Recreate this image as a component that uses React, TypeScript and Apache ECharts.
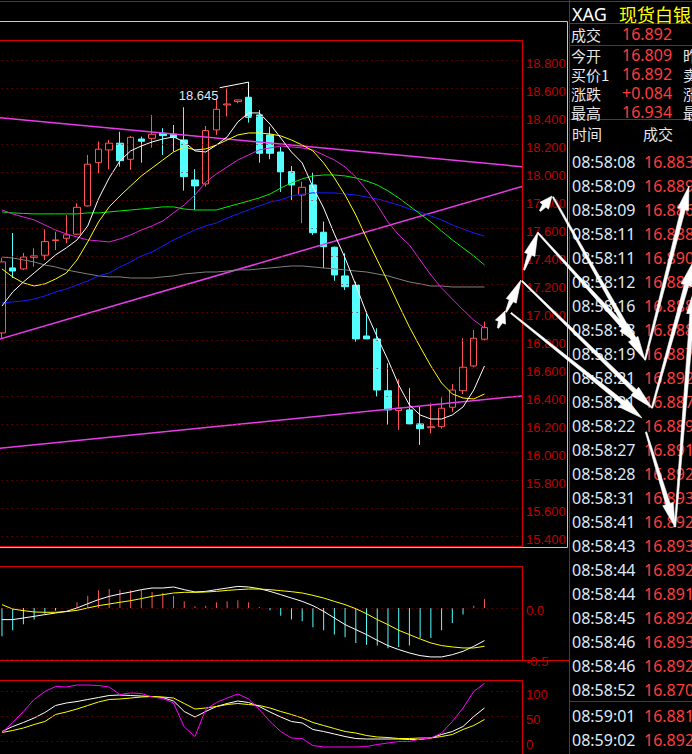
import React, { useEffect, useRef } from 'react';
import * as echarts from 'echarts';

// ---------- DATA ----------
// candles: [open, close, low, high]
const candles: number[][] = [
  [16.854, 17.361, 16.818, 17.39],
  [17.318, 17.296, 17.246, 17.568],
  [17.311, 17.396, 17.304, 17.425],
  [17.394, 17.404, 17.327, 17.459],
  [17.409, 17.506, 17.375, 17.594],
  [17.513, 17.518, 17.446, 17.577],
  [17.53, 17.554, 17.494, 17.696],
  [17.559, 17.751, 17.554, 17.78],
  [17.761, 18.059, 17.756, 18.125],
  [18.07, 18.166, 17.994, 18.22],
  [18.161, 18.209, 18.023, 18.232],
  [18.209, 18.084, 18.041, 18.291],
  [18.094, 18.251, 18.018, 18.261],
  [18.239, 18.223, 18.07, 18.256],
  [18.244, 18.273, 18.177, 18.411],
  [18.28, 18.263, 18.125, 18.316],
  [18.273, 18.249, 18.149, 18.339],
  [18.232, 17.97, 17.87, 18.466],
  [17.946, 17.904, 17.732, 18.023],
  [17.918, 18.299, 17.899, 18.332],
  [18.304, 18.451, 18.268, 18.53],
  [18.482, 18.489, 18.399, 18.601],
  [18.506, 18.518, 18.494, 18.52],
  [18.537, 18.394, 18.356, 18.645],
  [18.411, 18.137, 18.07, 18.446],
  [18.268, 18.137, 18.094, 18.327],
  [18.146, 18.004, 17.861, 18.182],
  [18.006, 17.911, 17.804, 18.046],
  [17.839, 17.894, 17.637, 17.934],
  [17.911, 17.57, 17.554, 17.999],
  [17.573, 17.47, 17.316, 17.649],
  [17.466, 17.268, 17.227, 17.47],
  [17.261, 17.184, 17.161, 17.423],
  [17.196, 16.811, 16.791, 17.22],
  [16.832, 16.811, 16.81, 17.006],
  [16.811, 16.446, 16.399, 16.887],
  [16.441, 16.304, 16.196, 16.637],
  [16.299, 16.316, 16.161, 16.523],
  [16.304, 16.204, 16.204, 16.459],
  [16.204, 16.17, 16.054, 16.327],
  [16.177, 16.184, 16.137, 16.351],
  [16.184, 16.316, 16.17, 16.394],
  [16.323, 16.446, 16.291, 16.489],
  [16.441, 16.609, 16.418, 16.816],
  [16.618, 16.816, 16.609, 16.875],
  [16.809, 16.892, 16.8, 16.934],
];

const maWhite = [17.046, 17.146, 17.218, 17.282, 17.346, 17.411, 17.461, 17.518, 17.618, 17.811, 17.961, 18.082, 18.154, 18.189, 18.218, 18.239, 18.254, 18.218, 18.154, 18.146, 18.196, 18.254, 18.361, 18.425, 18.425, 18.346, 18.246, 18.146, 18.068, 17.896, 17.746, 17.561, 17.389, 17.196, 16.996, 16.825, 16.661, 16.482, 16.339, 16.268, 16.239, 16.239, 16.268, 16.325, 16.446, 16.618];
const maYellow = [17.311, 17.254, 17.211, 17.189, 17.204, 17.239, 17.282, 17.375, 17.504, 17.646, 17.754, 17.832, 17.904, 17.975, 18.032, 18.089, 18.146, 18.182, 18.161, 18.168, 18.196, 18.232, 18.268, 18.282, 18.282, 18.275, 18.261, 18.232, 18.196, 18.154, 18.068, 17.961, 17.839, 17.696, 17.532, 17.375, 17.218, 17.054, 16.896, 16.754, 16.618, 16.496, 16.418, 16.389, 16.382, 16.418];
const maMagenta = [17.732, 17.704, 17.682, 17.661, 17.625, 17.589, 17.561, 17.539, 17.518, 17.511, 17.504, 17.525, 17.554, 17.589, 17.618, 17.654, 17.711, 17.768, 17.839, 17.932, 17.989, 18.039, 18.089, 18.125, 18.161, 18.175, 18.189, 18.182, 18.175, 18.161, 18.125, 18.089, 18.039, 17.968, 17.875, 17.768, 17.646, 17.554, 17.482, 17.375, 17.268, 17.175, 17.096, 17.018, 16.946, 16.889];
const maGreen = [17.718, 17.711, 17.707, 17.704, 17.704, 17.704, 17.704, 17.704, 17.711, 17.711, 17.718, 17.725, 17.732, 17.739, 17.746, 17.754, 17.754, 17.739, 17.732, 17.732, 17.732, 17.754, 17.775, 17.796, 17.818, 17.846, 17.889, 17.925, 17.954, 17.975, 17.982, 17.982, 17.975, 17.961, 17.939, 17.911, 17.868, 17.818, 17.761, 17.704, 17.646, 17.582, 17.518, 17.461, 17.404, 17.339];
const maBlue = [17.068, 17.075, 17.082, 17.096, 17.118, 17.146, 17.168, 17.196, 17.225, 17.261, 17.282, 17.325, 17.361, 17.404, 17.432, 17.475, 17.518, 17.554, 17.589, 17.618, 17.639, 17.675, 17.704, 17.732, 17.761, 17.789, 17.804, 17.832, 17.846, 17.854, 17.854, 17.854, 17.846, 17.839, 17.825, 17.811, 17.789, 17.768, 17.739, 17.718, 17.689, 17.661, 17.625, 17.596, 17.568, 17.546];
const maGray = [17.396, 17.389, 17.375, 17.361, 17.339, 17.325, 17.304, 17.289, 17.275, 17.261, 17.254, 17.254, 17.246, 17.246, 17.246, 17.254, 17.261, 17.275, 17.282, 17.289, 17.289, 17.296, 17.304, 17.304, 17.311, 17.318, 17.325, 17.332, 17.332, 17.325, 17.318, 17.311, 17.304, 17.296, 17.289, 17.275, 17.261, 17.239, 17.218, 17.204, 17.189, 17.189, 17.182, 17.182, 17.182, 17.182];

// hand-drawn trend lines: [slotPosition, price]
const trendUpper = [[-0.5, 18.393], [48.5, 18.041]];
const trendMiddle = [[-0.5, 16.804], [48.5, 17.9]];
const trendLower = [[-0.5, 16.028], [48.5, 16.404]];
const maxMarkerPath = [[20.3, 18.605], [23, 18.645], [23, 18.537]];

const macdHist = [-0.278, -0.219, -0.16, -0.114, -0.056, -0.026, 0, 0.056, 0.121, 0.173, 0.186, 0.18, 0.173, 0.18, 0.157, 0.147, 0.121, 0.065, 0.016, 0.023, 0.056, 0.065, 0.075, 0.056, 0.01, -0.023, -0.075, -0.114, -0.131, -0.19, -0.219, -0.261, -0.288, -0.343, -0.36, -0.369, -0.395, -0.382, -0.369, -0.294, -0.294, -0.219, -0.147, -0.065, 0.023, 0.088];
const macdDif = [-0.114, -0.114, -0.098, -0.082, -0.065, -0.049, -0.033, 0, 0.042, 0.082, 0.114, 0.137, 0.157, 0.18, 0.196, 0.196, 0.206, 0.18, 0.157, 0.163, 0.18, 0.196, 0.212, 0.206, 0.19, 0.163, 0.131, 0.098, 0.065, 0.023, -0.033, -0.098, -0.163, -0.212, -0.261, -0.317, -0.369, -0.408, -0.441, -0.467, -0.48, -0.48, -0.458, -0.425, -0.376, -0.32];
const macdDea = [0.033, -0.01, -0.026, -0.039, -0.042, -0.042, -0.036, -0.023, 0, 0.023, 0.039, 0.056, 0.072, 0.092, 0.114, 0.131, 0.147, 0.154, 0.154, 0.157, 0.163, 0.173, 0.18, 0.186, 0.186, 0.18, 0.17, 0.16, 0.147, 0.124, 0.098, 0.065, 0.033, -0.007, -0.056, -0.114, -0.163, -0.219, -0.261, -0.304, -0.343, -0.369, -0.382, -0.392, -0.392, -0.376];

const kdjK = [19, 29, 37, 46, 57, 71, 76, 79, 83, 87, 91, 92, 91, 90, 89, 87, 80, 59, 48, 59, 69, 75, 80, 77, 69, 58, 48, 39, 36, 23, 19, 14, 9, 5, 4, 4, 4, 4, 3, 3, 6, 13, 19, 29, 49, 66];
const kdjD = [17, 21, 26, 33, 39, 53, 58, 64, 71, 78, 83, 84, 86, 88, 89, 88, 86, 75, 64, 66, 69, 73, 75, 73, 71, 66, 59, 53, 46, 37, 31, 25, 19, 16, 11, 8, 7, 5, 5, 6, 6, 9, 13, 23, 31, 43];
const kdjJ = [17, 37, 59, 83, 99, 109, 108, 112, 112, 111, 108, 93, 96, 95, 88, 85, 76, 28, 9, 63, 77, 86, 94, 84, 63, 39, 19, 6, 5, -9, -12, -12, -12, -12, -11, -7, -4, -1, -1, 4, 6, 16, 39, 66, 99, 115];

// axis ticks (labels + dotted grid lines)
const priceTicks = [18.8, 18.6, 18.4, 18.2, 18.0, 17.8, 17.6, 17.4, 17.2, 17.0, 16.8, 16.6, 16.4, 16.2, 16.0, 15.8, 15.6, 15.4];
const macdTicks = [0, -0.5];
const kdjTicks = [100, 50, 0];
// visible value range of each panel box
const priceRange = [15.332, 18.946];
const macdRange = [-0.52, 0.412];
const kdjRange = [-26, 122];

const SLOTS = 49; // 46 candles + 3 empty slots on the right
const categories = Array.from({ length: SLOTS }, (_, i) => `K${i + 1}`);

const symbolCode = 'XAG';
const symbolName = '现货白银';
const quoteLabels = ['成交', '今开', '买价1', '涨跌', '最高'];
const quoteValues = ['16.892', '16.809', '16.892', '+0.084', '16.934'];
const quoteSide = ['', '昨收', '卖价1', '涨幅', '最低'];
const tickHeaders = ['时间', '成交'];
const tickTimes = ['08:58:08', '08:58:09', '08:58:09', '08:58:11', '08:58:11', '08:58:12', '08:58:16', '08:58:18', '08:58:19', '08:58:21', '08:58:21', '08:58:22', '08:58:27', '08:58:28', '08:58:31', '08:58:41', '08:58:43', '08:58:44', '08:58:44', '08:58:45', '08:58:46', '08:58:46', '08:58:52', '08:59:01', '08:59:02'];
const tickPrices = ['16.883', '16.889', '16.886', '16.888', '16.890', '16.889', '16.888', '16.888', '16.887', '16.892', '16.887', '16.889', '16.891', '16.892', '16.893', '16.892', '16.893', '16.892', '16.891', '16.892', '16.893', '16.892', '16.870', '16.881', '16.892'];

// hand-drawn white arrows (annotation, screen pixels): [x1, y1, x2, y2], head at the end
const arrows = [
  [498, 328, 505, 311],
  [506, 312, 521, 280],
  [524, 270, 538, 232],
  [540, 211, 552, 196],
  [553, 197, 645, 360],
  [538, 233, 640, 345],
  [522, 281, 652, 408],
  [511, 313, 642, 418],
  [646, 432, 675, 527],
  [645, 360, 689, 186],
  [652, 408, 693, 262],
  [675, 527, 694, 290],
];

// ---------- STYLE ----------
const RED_LINE = '#d80000';
const GRID_RED = '#a00000';
const LABEL_RED = '#c00000';
const BULL = '#ff5454';
const BEAR = '#54ffff';
const AXIS_FONT = "'Liberation Sans', Arial, sans-serif";
const PANEL_FONT = "'Noto Sans', 'Noto Sans CJK SC', sans-serif";
const CJK_FONT = "'Noto Sans CJK SC', 'Noto Sans', sans-serif";

function arrowPolygon(x1: number, y1: number, x2: number, y2: number) {
  const dx = x2 - x1, dy = y2 - y1;
  const L = Math.hypot(dx, dy);
  const ux = dx / L, uy = dy / L;
  const px = -uy, py = ux;
  const headLen = Math.min(24, L * 0.65);
  const headW = 5.5, w0 = 0.7, w1 = 2.2;
  const bx = x2 - ux * headLen, by = y2 - uy * headLen;
  return [
    [x1 + px * w0, y1 + py * w0],
    [bx + px * w1, by + py * w1],
    [bx + px * headW, by + py * headW],
    [x2, y2],
    [bx - px * headW, by - py * headW],
    [bx - px * w1, by - py * w1],
    [x1 - px * w0, y1 - py * w0],
  ];
}

function txt(text: string, x: number, y: number, fill: string, size: number, family: string, z = 60) {
  return {
    type: 'text', z, silent: true,
    style: {
      text, x, y, fill,
      font: `${size}px ${family}`,
      textAlign: 'left', textVerticalAlign: 'middle',
      align: 'left', verticalAlign: 'middle',
    },
  };
}
function hline(x1: number, x2: number, y: number, stroke: string) {
  return { type: 'line', z: 50, silent: true, shape: { x1, y1: y, x2, y2: y }, style: { stroke, lineWidth: 1 } };
}
function vline(x: number, y1: number, y2: number, stroke: string) {
  return { type: 'line', z: 50, silent: true, shape: { x1: x, y1, x2: x, y2 }, style: { stroke, lineWidth: 1 } };
}
function box(x: number, y: number, w: number, h: number, stroke: string) {
  return { type: 'rect', z: 50, silent: true, shape: { x, y, width: w, height: h }, style: { fill: 'none', stroke, lineWidth: 1 } };
}

export default function App() {
  const ref = useRef<HTMLDivElement>(null);
  useEffect(() => {
    if (!ref.current) return;
    const chart = echarts.init(ref.current, null, { renderer: 'svg' });

    const highs = candles.map((c) => c[3]);
    const maxHigh = Math.max(...highs);
    const maxIdx = highs.indexOf(maxHigh);

    const GL = -3.4, GR = 170;
    const gridMark = (ticks: number[]) => ({
      silent: true, symbol: ['none', 'none'], label: { show: false },
      lineStyle: { color: GRID_RED, type: [1, 4], width: 1 },
      data: ticks.map((v) => ({ yAxis: v })),
    });
    const hiddenY = (gridIndex: number, range: number[]) => ({
      type: 'value', gridIndex, position: 'right', min: range[0], max: range[1], scale: true,
      axisLine: { show: false }, axisTick: { show: false }, axisLabel: { show: false }, splitLine: { show: false },
    });
    const lineSeries = (data: any, color: string, xAxisIndex: number, yAxisIndex: number, width = 1, extra: any = {}) => ({
      type: 'line', data, xAxisIndex, yAxisIndex, symbol: 'none', silent: true,
      lineStyle: { color, width }, z: 3, ...extra,
    });

    const option: any = {
      animation: false,
      backgroundColor: '#000000',
      grid: [
        { left: GL, right: GR, top: 40, height: 506, outerBoundsMode: 'none' },
        { left: GL, right: GR, top: 566, height: 95, outerBoundsMode: 'none' },
        { left: GL, right: GR, top: 680, height: 74, outerBoundsMode: 'none' },
      ],
      xAxis: [
        { type: 'category', gridIndex: 0, data: categories, show: false },
        { type: 'value', gridIndex: 0, min: -0.5, max: SLOTS - 0.5, show: false },
        { type: 'category', gridIndex: 1, data: categories, show: false },
        { type: 'category', gridIndex: 2, data: categories, show: false },
      ],
      yAxis: [hiddenY(0, priceRange), hiddenY(1, macdRange), hiddenY(2, kdjRange)],
      series: [
        {
          type: 'candlestick', xAxisIndex: 0, yAxisIndex: 0, data: candles, barWidth: 7, z: 2,
          itemStyle: { color: 'rgba(0,0,0,0)', color0: BEAR, borderColor: BULL, borderColor0: BEAR, borderWidth: 1 },
          markLine: gridMark(priceTicks),
          markPoint: {
            symbol: 'circle', symbolSize: 0, silent: true,
            data: [{ coord: [categories[maxIdx], maxHigh], value: maxHigh }],
            label: {
              show: true, position: 'inside', offset: [-50, 13], color: '#dbe6f2', fontSize: 13,
              fontFamily: AXIS_FONT, formatter: (p: any) => Number(p.value).toFixed(3),
            },
          },
        },
        lineSeries(trendUpper, '#e83ce8', 1, 0, 1.5),
        lineSeries(trendMiddle, '#e83ce8', 1, 0, 1.5),
        lineSeries(trendLower, '#e83ce8', 1, 0, 1.5),
        lineSeries(maGray, '#808080', 0, 0),
        lineSeries(maBlue, '#1a1aff', 0, 0),
        lineSeries(maGreen, '#00ee00', 0, 0),
        lineSeries(maMagenta, '#e020e0', 0, 0),
        lineSeries(maYellow, '#ffff00', 0, 0),
        lineSeries(maWhite, '#ffffff', 0, 0),
        lineSeries(maxMarkerPath, '#ffffff', 1, 0),
        {
          type: 'bar', xAxisIndex: 2, yAxisIndex: 1, data: macdHist, barWidth: 1, silent: true,
          itemStyle: { color: (p: any) => (p.value >= 0 ? BULL : BEAR) },
          markLine: gridMark(macdTicks),
        },
        lineSeries(macdDif, '#ffffff', 2, 1),
        lineSeries(macdDea, '#ffff00', 2, 1),
        lineSeries(kdjK, '#ffffff', 3, 2, 1, { markLine: gridMark(kdjTicks) }),
        lineSeries(kdjD, '#ffff00', 3, 2),
        lineSeries(kdjJ, '#ff00ff', 3, 2),
      ],
    };
    chart.setOption(option);

    const graphics: any[] = [];
    // frames
    graphics.push(hline(0, 692, 1.5, RED_LINE));
    graphics.push(box(-2, 21.5, 569.5, 526, '#c8c8c8'));
    graphics.push(box(-2, 40.5, 524.5, 506, RED_LINE));
    graphics.push(box(-2, 566.5, 524.5, 94, RED_LINE));
    graphics.push(hline(0, 569, 660.5, RED_LINE));
    graphics.push(box(-2, 680.5, 524.5, 100, RED_LINE));
    graphics.push(vline(569.5, 0, 754, RED_LINE));
    graphics.push(hline(570, 692, 23.5, RED_LINE));
    graphics.push(hline(570, 692, 45.5, RED_LINE));
    graphics.push(hline(570, 692, 119.5, RED_LINE));
    graphics.push(hline(570, 692, 701.5, RED_LINE));

    // axis labels placed through the axis scales
    const addLabels = (ticks: number[], yAxisIndex: number, fmt: (v: number) => string) => {
      ticks.forEach((v) => {
        const y = chart.convertToPixel({ yAxisIndex } as any, v) as unknown as number;
        graphics.push(txt(fmt(v), 526, y + 3, LABEL_RED, 13, AXIS_FONT));
      });
    };
    addLabels(priceTicks, 0, (v) => v.toFixed(3));
    addLabels(macdTicks, 1, (v) => v.toFixed(1));
    addLabels(kdjTicks, 2, (v) => String(v));

    // right panel texts
    graphics.push(txt(symbolCode, 572, 14, '#ffffff', 18, PANEL_FONT));
    graphics.push(txt(symbolName, 619, 14, '#ffff00', 18, CJK_FONT));
    const quoteY = [34, 55, 74, 93, 112];
    quoteLabels.forEach((l, i) => {
      graphics.push(txt(l, 571, quoteY[i], '#e6e6e6', 15, CJK_FONT));
      graphics.push(txt(quoteValues[i], 622, quoteY[i], '#ff3d3d', 16, PANEL_FONT));
      if (quoteSide[i]) graphics.push(txt(quoteSide[i], 683, quoteY[i], '#e6e6e6', 15, CJK_FONT));
    });
    graphics.push(txt(tickHeaders[0], 572, 133, '#e6e6e6', 15, CJK_FONT));
    graphics.push(txt(tickHeaders[1], 643, 133, '#e6e6e6', 15, CJK_FONT));
    tickTimes.forEach((t, i) => {
      const y = 162 + 24 * i + (i >= 23 ? 2 : 0);
      graphics.push(txt(t, 572, y, '#dfe9f7', 16, PANEL_FONT));
      graphics.push(txt(tickPrices[i], 644, y, '#ff3d3d', 16, PANEL_FONT));
    });

    // arrows
    arrows.forEach(([x1, y1, x2, y2]) => {
      graphics.push({
        type: 'polygon', z: 100, silent: true,
        shape: { points: arrowPolygon(x1, y1, x2, y2) },
        style: { fill: '#ffffff', stroke: '#ffffff', lineWidth: 0.6 },
      });
    });

    chart.setOption({ graphic: { elements: graphics } });
    return () => chart.dispose();
  }, []);

  return (
    <div
      ref={ref}
      style={{ position: 'fixed', left: 0, top: 0, width: 692, height: 754, background: '#000' }}
    />
  );
}
